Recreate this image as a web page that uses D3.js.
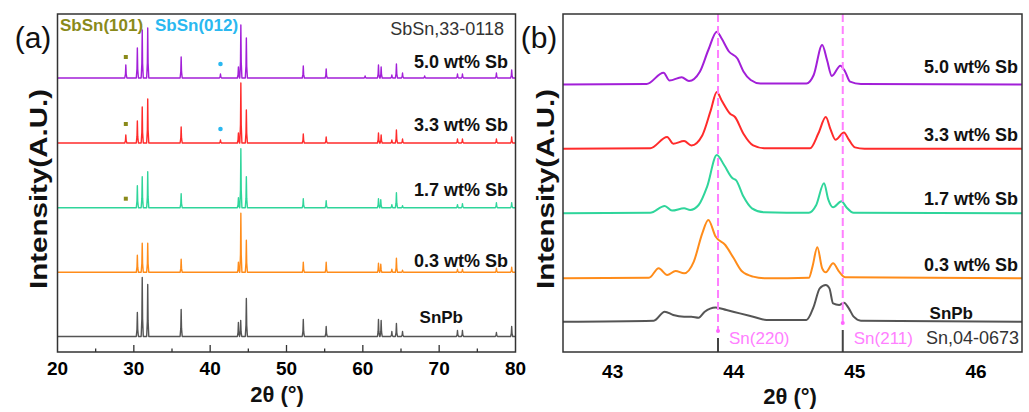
<!DOCTYPE html>
<html>
<head>
<meta charset="utf-8">
<script src="https://cdn.jsdelivr.net/npm/d3@7"></script>
<style>
  body { margin: 0; background: #fff; }
  text { font-family: "Liberation Sans", Arial, sans-serif; }
</style>
</head>
<body>
<div id="chart"></div>
<script>
var width = 1029,
  height = 412;

// ---- data (2theta, intensity a.u.) ----
var seriesNames = ["5.0 wt% Sb", "3.3 wt% Sb", "1.7 wt% Sb", "0.3 wt% Sb", "SnPb"];
var seriesColors = ["#a21fd8", "#ff2b2b", "#2fd59b", "#ff8c1a", "#555555"];

var ticksA = [20, 30, 40, 50, 60, 70, 80];
var minorTicksA = [25, 35, 45, 55, 65, 75];
var ticksB = [43, 44, 45, 46];

// panel (a): peak list per sample
var peaks50 = [[28.95,13],[30.46,30],[31.1,48],[31.82,50],[36.2,21],[41.35,4],[43.7,11],[44.02,53],[44.74,40],[52.2,12],[55.2,9],[60.3,2],[62.05,13],[62.4,11],[63.8,3],[64.4,14],[65.2,5],[68.1,2],[72.4,4],[73.05,4],[77.5,5],[79.5,8]];
var peaks33 = [[28.95,8],[30.46,22],[31.1,36],[31.82,44],[36.2,16],[41.35,3],[43.7,10],[44.02,60],[44.74,33],[52.2,9],[55.2,6],[62.05,10],[62.4,8],[63.8,3],[64.4,13],[65.2,4],[72.4,4],[73.05,4],[77.5,4],[79.5,6]];
var peaks17 = [[30.46,22],[31.1,31],[31.82,36],[36.2,14],[43.7,10],[44.02,59],[44.74,31],[52.2,9],[55.2,7],[62.05,9],[62.35,8],[63.8,3],[64.4,15],[65.2,2],[72.4,3],[73.05,4],[77.5,5],[79.5,5]];
var peaks03 = [[30.46,17],[31.1,29],[31.82,29],[36.2,13],[43.7,10],[44.02,59],[44.74,32],[52.2,10],[55.2,10],[62.05,9],[62.35,8],[63.8,3],[64.4,14],[65.2,2],[72.4,3],[73.05,3],[77.5,4],[79.5,5]];
var peaksSnPb = [[30.46,24],[31.1,59],[31.82,52],[36.2,27],[43.7,14],[44.0,16],[44.74,38],[52.2,17],[55.2,10],[62.05,17],[62.4,16],[63.8,5],[64.4,13],[65.2,5],[72.4,6],[73.05,6],[77.5,4],[79.5,10]];

// SbSn markers: [series index, 2theta, intensity]
var sbsn101 = [[0, 28.95, 21], [1, 28.95, 19], [2, 28.95, 9]];
var sbsn012 = [[0, 41.35, 14], [1, 41.35, 14]];

// panel (b): scan points per sample
var scan50 = [[42.59,0],[43.28,0.5],[43.42,11.8],[43.47,4],[43.57,7.2],[43.63,3.5],[43.72,12.8],[43.79,34.5],[43.86,52.8],[43.9,46],[43.96,33],[44.03,26],[44.08,13],[44.14,4.5],[44.22,1],[44.6,1],[44.66,9.5],[44.73,39.5],[44.77,24.5],[44.81,8.5],[44.88,18.8],[44.92,12.8],[44.96,2.8],[45.05,0.5],[46.38,0]];
var scan33 = [[42.59,0],[43.31,0.5],[43.45,11.7],[43.5,5],[43.59,7.7],[43.65,3.3],[43.74,13.3],[43.81,38.3],[43.86,56.7],[43.9,48.3],[43.97,35],[44.01,31.7],[44.08,15],[44.16,3.3],[44.25,0.5],[44.63,0.5],[44.7,15.7],[44.76,31.7],[44.8,19],[44.84,9],[44.91,16.3],[44.95,9],[45.0,1.3],[45.08,0],[46.38,0]];
var scan17 = [[42.59,0],[43.31,0.5],[43.43,7.3],[43.49,2.7],[43.59,5],[43.64,3.3],[43.71,8.3],[43.78,26.7],[43.86,58.3],[43.92,48.3],[43.99,35],[44.02,33],[44.08,16.7],[44.15,5],[44.25,1],[44.62,0.5],[44.68,8],[44.745,30],[44.78,14],[44.82,6],[44.89,12],[44.93,6],[44.99,0.5],[46.38,0]];
var scan03 = [[42.59,0],[43.3,0.5],[43.38,10],[43.45,3.3],[43.52,7.3],[43.59,5],[43.67,16.7],[43.74,45],[43.79,58.3],[43.85,41.7],[43.93,33.3],[44.0,20],[44.07,6.7],[44.16,1.7],[44.27,0],[44.62,0.5],[44.65,11.7],[44.69,31],[44.73,10],[44.76,6],[44.82,15],[44.87,6.7],[44.92,1],[46.38,0]];
var scanSnPb = [[42.59,0],[43.34,1],[43.43,10],[43.5,6.7],[43.59,5],[43.65,5],[43.71,4],[43.76,10],[43.85,14.3],[43.94,11.7],[44.05,8.3],[44.16,5],[44.27,1.7],[44.6,1.7],[44.66,15],[44.71,33.3],[44.76,36.7],[44.79,33.3],[44.82,18.3],[44.87,16.7],[44.91,19],[44.95,13.3],[44.99,5],[45.05,1],[46.38,0]];

// Sn reference, 04-0673: [2theta, stick height, label]
var snRef = [[43.87, 14, "Sn(220)"], [44.9, 22, "Sn(211)"]];

var peaksA = [peaks50, peaks33, peaks17, peaks03, peaksSnPb];
var scansB = [scan50, scan33, scan17, scan03, scanSnPb];

// ---- layout ----
var offsetsA = [274, 209, 144.3, 79.7, 15.5];
var offsetsB = [267.5, 203.3, 138.7, 73.7, 30.3];
var labelYA = [62, 125, 190, 261, 317];
var labelYB = [67, 135, 199, 265, 313];

var svg = d3.select( "#chart" )
  .append( "svg" )
  .attr( "width", width )
  .attr( "height", height );

var plotTop = 14, plotBottom = 352;

var xA = d3.scaleLinear().domain( [20, 80] ).range( [57.5, 515.5] );
var xB = d3.scaleLinear().domain( [42.59, 46.38] ).range( [563, 1022] );
var y = d3.scaleLinear().domain( [0, plotBottom - plotTop] ).range( [plotBottom, plotTop] );

// ---- panel (a) ----
var gA = svg.append( "g" );

function spikePoints(peaks){
  var w = 0.14, pts = [[20, 0]];
  peaks.forEach(function(p){
    pts.push([p[0] - w, 0], [p[0] - w * 0.35, p[1] * 0.3], [p[0], p[1]], [p[0] + w * 0.35, p[1] * 0.3], [p[0] + w, 0]);
  });
  pts.push([80, 0]);
  return pts;
}

peaksA.forEach(function(peaks, i){
  var line = d3.line()
    .x( function(d){ return xA(d[0]); } )
    .y( function(d){ return y(d[1] + offsetsA[i]); } );
  gA.append( "path" )
    .attr( "d", line(spikePoints(peaks)) )
    .attr( "fill", "none" )
    .attr( "stroke", seriesColors[i] )
    .attr( "stroke-width", 1.4 )
    .attr( "stroke-linejoin", "round" );
});

gA.selectAll( "rect.m101" )
  .data( sbsn101 )
  .enter()
  .append( "rect" )
  .attr( "x", function(d){ return xA(d[1]) - 2; } )
  .attr( "y", function(d){ return y(d[2] + offsetsA[d[0]]) - 2; } )
  .attr( "width", 4 )
  .attr( "height", 4 )
  .attr( "fill", "#8a8a1a" );

gA.selectAll( "circle.m012" )
  .data( sbsn012 )
  .enter()
  .append( "circle" )
  .attr( "cx", function(d){ return xA(d[1]); } )
  .attr( "cy", function(d){ return y(d[2] + offsetsA[d[0]]); } )
  .attr( "r", 2.3 )
  .attr( "fill", "#2ab8f0" );

// frame and ticks
gA.append( "rect" )
  .attr( "x", xA(20) ).attr( "y", plotTop )
  .attr( "width", xA(80) - xA(20) ).attr( "height", plotBottom - plotTop )
  .attr( "fill", "none" ).attr( "stroke", "#333" ).attr( "stroke-width", 1.5 );

gA.selectAll( "line.maj" )
  .data( ticksA.slice(1, -1) )
  .enter()
  .append( "line" )
  .attr( "x1", xA ).attr( "x2", xA )
  .attr( "y1", plotBottom ).attr( "y2", plotBottom - 7 )
  .attr( "stroke", "#333" ).attr( "stroke-width", 1.3 );

gA.selectAll( "line.min" )
  .data( minorTicksA )
  .enter()
  .append( "line" )
  .attr( "x1", xA ).attr( "x2", xA )
  .attr( "y1", plotBottom ).attr( "y2", plotBottom - 3.5 )
  .attr( "stroke", "#333" ).attr( "stroke-width", 1.3 );

gA.selectAll( "text.tick" )
  .data( ticksA )
  .enter()
  .append( "text" )
  .attr( "x", xA ).attr( "y", 368 ).attr( "dy", "0.35em" )
  .attr( "text-anchor", "middle" )
  .attr( "font-size", 19 ).attr( "font-weight", "bold" )
  .text( function(d){ return d; } );

seriesNames.forEach(function(name, i){
  gA.append( "text" )
    .attr( "x", i == 4 ? 463 : 508 ).attr( "y", labelYA[i] ).attr( "dy", "0.35em" )
    .attr( "text-anchor", "end" )
    .attr( "font-size", i == 4 ? 17 : 18 ).attr( "font-weight", "bold" ).attr( "fill", "#111" )
    .text( name );
});

gA.append( "text" )
  .attr( "x", 60 ).attr( "y", 25 ).attr( "dy", "0.35em" )
  .attr( "font-size", 17 ).attr( "font-weight", "bold" ).attr( "fill", "#8a8a1a" )
  .text( "SbSn(101)" );
gA.append( "text" )
  .attr( "x", 155 ).attr( "y", 25 ).attr( "dy", "0.35em" )
  .attr( "font-size", 17 ).attr( "font-weight", "bold" ).attr( "fill", "#2ab8f0" )
  .text( "SbSn(012)" );
gA.append( "text" )
  .attr( "x", 504 ).attr( "y", 29 ).attr( "dy", "0.35em" )
  .attr( "text-anchor", "end" )
  .attr( "font-size", 18 ).attr( "fill", "#333" )
  .text( "SbSn,33-0118" );

// ---- panel (b) ----
var gB = svg.append( "g" );

scansB.forEach(function(scan, i){
  var line = d3.line()
    .curve( d3.curveMonotoneX )
    .x( function(d){ return xB(d[0]); } )
    .y( function(d){ return y(d[1] + offsetsB[i]); } );
  gB.append( "path" )
    .attr( "d", line(scan) )
    .attr( "fill", "none" )
    .attr( "stroke", seriesColors[i] )
    .attr( "stroke-width", 2 );
});

gB.selectAll( "line.dash" )
  .data( snRef )
  .enter()
  .append( "line" )
  .attr( "x1", function(d){ return xB(d[0]); } ).attr( "x2", function(d){ return xB(d[0]); } )
  .attr( "y1", plotTop ).attr( "y2", function(d){ return y(d[1] + 8); } )
  .attr( "stroke", "#ff80ff" ).attr( "stroke-width", 2 )
  .attr( "stroke-dasharray", "8,4" );

gB.selectAll( "circle.dot" )
  .data( snRef )
  .enter()
  .append( "circle" )
  .attr( "cx", function(d){ return xB(d[0]); } )
  .attr( "cy", function(d){ return y(d[1] + 7); } )
  .attr( "r", 2 )
  .attr( "fill", "#ff66ff" );

gB.selectAll( "line.stick" )
  .data( snRef )
  .enter()
  .append( "line" )
  .attr( "x1", function(d){ return xB(d[0]); } ).attr( "x2", function(d){ return xB(d[0]); } )
  .attr( "y1", plotBottom ).attr( "y2", function(d){ return y(d[1]); } )
  .attr( "stroke", "#444" ).attr( "stroke-width", 2 );

gB.selectAll( "text.ref" )
  .data( snRef )
  .enter()
  .append( "text" )
  .attr( "x", function(d){ return xB(d[0]) + 11; } )
  .attr( "y", 338 ).attr( "dy", "0.35em" )
  .attr( "font-size", 17 ).attr( "fill", "#ff80ff" )
  .text( function(d){ return d[2]; } );

gB.append( "text" )
  .attr( "x", 1019 ).attr( "y", 338 ).attr( "dy", "0.35em" )
  .attr( "text-anchor", "end" )
  .attr( "font-size", 18 ).attr( "fill", "#333" )
  .text( "Sn,04-0673" );

gB.append( "rect" )
  .attr( "x", xB.range()[0] ).attr( "y", plotTop )
  .attr( "width", xB.range()[1] - xB.range()[0] ).attr( "height", plotBottom - plotTop )
  .attr( "fill", "none" ).attr( "stroke", "#333" ).attr( "stroke-width", 1.5 );

gB.selectAll( "text.tick" )
  .data( ticksB )
  .enter()
  .append( "text" )
  .attr( "x", xB ).attr( "y", 371 ).attr( "dy", "0.35em" )
  .attr( "text-anchor", "middle" )
  .attr( "font-size", 19 ).attr( "font-weight", "bold" )
  .text( function(d){ return d; } );

seriesNames.forEach(function(name, i){
  gB.append( "text" )
    .attr( "x", i == 4 ? 973 : 1018 ).attr( "y", labelYB[i] ).attr( "dy", "0.35em" )
    .attr( "text-anchor", "end" )
    .attr( "font-size", i == 4 ? 17 : 18 ).attr( "font-weight", "bold" ).attr( "fill", "#111" )
    .text( name );
});

// ---- shared labels ----
[[33, "(a)"], [539, "(b)"]].forEach(function(p){
  svg.append( "text" )
    .attr( "x", p[0] ).attr( "y", 37 ).attr( "dy", "0.35em" )
    .attr( "text-anchor", "middle" )
    .attr( "font-size", 30 ).attr( "fill", "#111" )
    .text( p[1] );
});

[[39, 189], [546, 189]].forEach(function(p){
  svg.append( "text" )
    .attr( "transform", "translate(" + p[0] + "," + p[1] + ") rotate(-90)" )
    .attr( "dy", "0.35em" )
    .attr( "text-anchor", "middle" )
    .attr( "font-size", 23 ).attr( "font-weight", "bold" ).attr( "fill", "#111" )
    .attr( "textLength", 200 ).attr( "lengthAdjust", "spacingAndGlyphs" )
    .text( "Intensity(A.U.)" );
});

[[277, 394], [790, 396]].forEach(function(p){
  svg.append( "text" )
    .attr( "x", p[0] ).attr( "y", p[1] ).attr( "dy", "0.35em" )
    .attr( "text-anchor", "middle" )
    .attr( "font-size", 22 ).attr( "font-weight", "bold" ).attr( "fill", "#111" )
    .text( "2θ (°)" );
});
</script>
</body>
</html>
